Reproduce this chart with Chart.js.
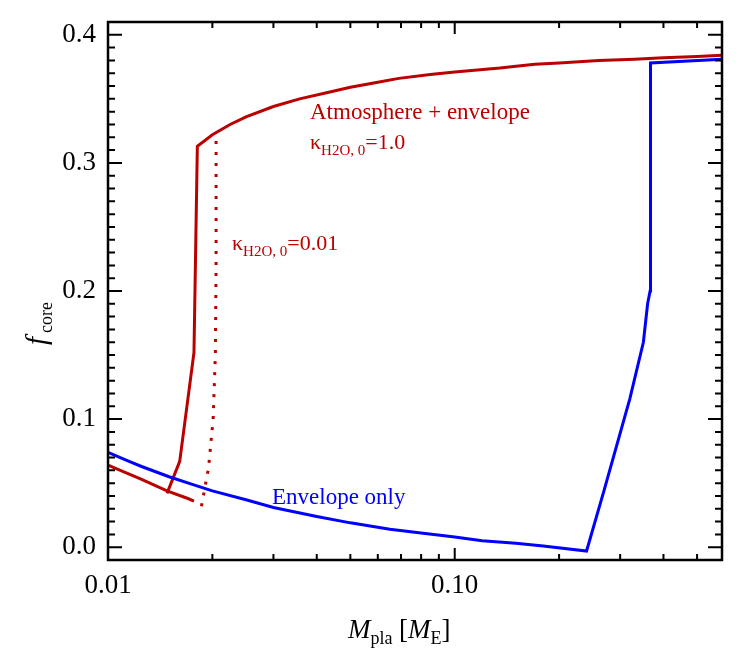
<!DOCTYPE html>
<html>
<head>
<script src="https://cdn.jsdelivr.net/npm/chart.js@4"></script>
<style>
  body { margin: 0; background: #fff; }
  #wrap { width: 747px; height: 660px; }
</style>
</head>
<body>
<div id="wrap"><canvas id="chart"></canvas></div>
<script>
// envelope only (blue)
const envMass = [0.01, 0.0115, 0.0125, 0.015, 0.0175, 0.02, 0.025, 0.03, 0.04, 0.05, 0.065, 0.08, 0.1, 0.12, 0.15, 0.18, 0.24, 0.27, 0.32, 0.35, 0.36, 0.366, 0.367, 0.59]
const envCore = [0.074, 0.067, 0.063, 0.055, 0.049, 0.044, 0.037, 0.031, 0.024, 0.019, 0.014, 0.011, 0.008, 0.005, 0.003, 0.001, -0.003, 0.045, 0.116, 0.160, 0.190, 0.20, 0.378, 0.381]

// atmosphere + envelope, kappa = 1.0, lower branch
const lowMass = [0.01, 0.0125, 0.0148, 0.017, 0.0177]
const lowCore = [0.064, 0.053, 0.044, 0.038, 0.036]

// atmosphere + envelope, kappa = 1.0, jump and upper branch
const upMass = [0.0148, 0.0161, 0.0177, 0.0181, 0.020, 0.0225, 0.025, 0.03, 0.0357, 0.043, 0.05, 0.06, 0.069, 0.085, 0.1, 0.135, 0.17, 0.2, 0.26, 0.33, 0.4, 0.5, 0.59]
const upCore = [0.042, 0.067, 0.152, 0.313, 0.322, 0.330, 0.336, 0.344, 0.350, 0.355, 0.359, 0.363, 0.366, 0.369, 0.371, 0.374, 0.377, 0.378, 0.380, 0.381, 0.382, 0.383, 0.384]

// kappa = 0.01 (dotted)
const dotMass = [0.0186, 0.0195, 0.0201, 0.0204, 0.0205, 0.0205]
const dotCore = [0.032, 0.062, 0.100, 0.150, 0.220, 0.320]

const xMajor = [0.01, 0.1]
const xMajorLabels = ['0.01', '0.10']
const yMajor = [0.0, 0.1, 0.2, 0.3, 0.4]

const red = '#bb0000'
const blue = '#0000ff'
const toPts = (xs, ys) => xs.map((x, i) => ({ x: x, y: ys[i] }))

const overlay = {
  id: 'overlay',
  afterDraw(chart) {
    const ctx = chart.ctx
    const xs = chart.scales.x, ys = chart.scales.y
    const a = chart.chartArea
    ctx.save()
    ctx.strokeStyle = '#000'
    ctx.lineWidth = 2.5
    ctx.strokeRect(a.left, a.top, a.right - a.left, a.bottom - a.top)
    ctx.lineWidth = 2
    // x ticks
    for (let d = -2; d <= -1; d++) {
      for (let m = 1; m <= 9; m++) {
        const v = m * Math.pow(10, d)
        if (v > xs.max) continue
        const px = xs.getPixelForValue(v)
        const len = m === 1 ? 12 : 6
        ctx.beginPath()
        ctx.moveTo(px, a.bottom); ctx.lineTo(px, a.bottom - len)
        ctx.moveTo(px, a.top); ctx.lineTo(px, a.top + len)
        ctx.stroke()
      }
    }
    // y ticks
    for (let i = 0; i <= 40; i++) {
      const v = i / 100
      const py = ys.getPixelForValue(v)
      const len = i % 10 === 0 ? 14 : 7
      ctx.beginPath()
      ctx.moveTo(a.left, py); ctx.lineTo(a.left + len, py)
      ctx.moveTo(a.right, py); ctx.lineTo(a.right - len, py)
      ctx.stroke()
    }
    // tick labels
    ctx.fillStyle = '#000'
    ctx.font = '27px "Liberation Serif"'
    ctx.textAlign = 'center'
    ctx.textBaseline = 'top'
    xMajor.forEach((v, i) => ctx.fillText(xMajorLabels[i], xs.getPixelForValue(v), a.bottom + 12))
    ctx.textAlign = 'right'
    ctx.textBaseline = 'middle'
    yMajor.forEach(v => ctx.fillText(v.toFixed(1), a.left - 12, ys.getPixelForValue(v)))

    // axis titles
    ctx.textBaseline = 'alphabetic'
    ctx.textAlign = 'left'
    let x0 = 348, y0 = 638
    ctx.font = 'italic 27px "Liberation Serif"'
    ctx.fillText('M', x0, y0); x0 += ctx.measureText('M').width
    ctx.font = '18px "Liberation Serif"'
    ctx.fillText('pla', x0, y0 + 6); x0 += ctx.measureText('pla ').width + 2
    ctx.font = '27px "Liberation Serif"'
    ctx.fillText('[', x0, y0); x0 += ctx.measureText('[').width
    ctx.font = 'italic 27px "Liberation Serif"'
    ctx.fillText('M', x0, y0); x0 += ctx.measureText('M').width
    ctx.font = '18px "Liberation Serif"'
    ctx.fillText('E', x0, y0 + 6); x0 += ctx.measureText('E').width
    ctx.font = '27px "Liberation Serif"'
    ctx.fillText(']', x0, y0)

    ctx.save()
    ctx.translate(46, 315)
    ctx.rotate(-Math.PI / 2)
    ctx.font = 'italic 29px "Liberation Serif"'
    ctx.fillText('f', -30, 0)
    ctx.font = '18px "Liberation Serif"'
    ctx.fillText('core', -18, 6)
    ctx.restore()

    // annotations
    const kappa = (txt, x, y) => {
      ctx.font = '22px "Liberation Serif"'
      ctx.fillText('\u03ba', x, y); let w = x + ctx.measureText('\u03ba').width
      ctx.font = '15px "Liberation Serif"'
      ctx.fillText('H2O, 0', w, y + 6); w += ctx.measureText('H2O, 0').width
      ctx.font = '22px "Liberation Serif"'
      ctx.fillText(txt, w, y)
    }
    ctx.fillStyle = red
    ctx.font = '23px "Liberation Serif"'
    ctx.fillText('Atmosphere + envelope', 310, 119)
    kappa('=1.0', 310, 149)
    kappa('=0.01', 232, 250)
    ctx.fillStyle = blue
    ctx.font = '23px "Liberation Serif"'
    ctx.fillText('Envelope only', 272, 504)
    ctx.restore()
  }
}

const line = (data, color, dash) => ({
  data: data, showLine: true, borderColor: color, borderWidth: 3,
  borderDash: dash || [], pointRadius: 0, tension: 0, fill: false
})

new Chart(document.getElementById('chart'), {
  type: 'scatter',
  data: {
    datasets: [
      line(toPts(envMass, envCore), blue),
      line(toPts(lowMass, lowCore), red),
      line(toPts(upMass, upCore), red),
      line(toPts(dotMass, dotCore), red, [3, 8])
    ]
  },
  options: {
    responsive: true,
    maintainAspectRatio: false,
    animation: false,
    layout: { padding: { top: 22, right: 25, left: 0, bottom: 0 } },
    plugins: { legend: { display: false }, tooltip: { enabled: false } },
    scales: {
      x: {
        type: 'logarithmic', min: 0.01, max: 0.59,
        grid: { display: false }, border: { display: false },
        ticks: { display: false },
        afterFit: s => { s.height = 100 }
      },
      y: {
        min: -0.01, max: 0.41,
        grid: { display: false }, border: { display: false },
        ticks: { display: false },
        afterFit: s => { s.width = 108 }
      }
    }
  },
  plugins: [overlay]
})
</script>
</body>
</html>
